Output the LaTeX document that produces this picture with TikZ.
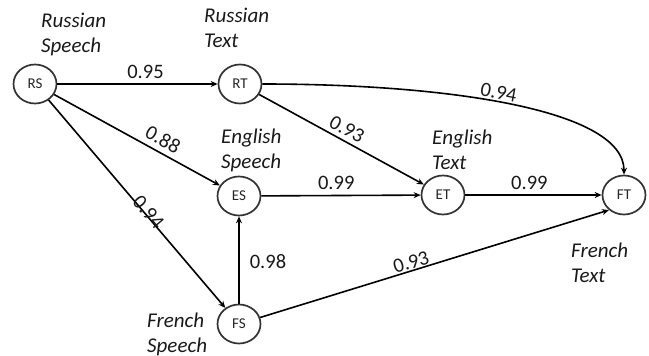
\documentclass[tikz,border=0pt]{standalone}
\usepackage{fontspec}
\setmainfont{Carlito}
\usetikzlibrary{arrows.meta,shapes.geometric}
\begin{document}
\begin{tikzpicture}[x=1pt,y=-1pt,
  state/.style={ellipse, draw=black!80, line width=1.7pt, minimum width=43pt, minimum height=39pt, inner sep=0pt, font=\fontsize{15}{18}\selectfont, text=black!85},
  lbl/.style={font=\fontsize{21}{25}\selectfont\itshape, align=left, inner sep=0pt, anchor=west, text=black!90},
  conn/.style={line width=1.6pt, -{Stealth[length=7pt,width=6pt]}},
  wt/.style={font=\fontsize{20.5}{24}\selectfont, inner sep=1pt, text=black!90}
]
\useasboundingbox (0,0) rectangle (649,356);

\node[state] (RS) at (35,84) {RS};
\node[state] (RT) at (240,84) {RT};
\node[state] (ES) at (239,196) {ES};
\node[state] (ET) at (443,195) {ET};
\node[state] (FS) at (239,324) {FS};
\node[state] (FT) at (624,195) {FT};

\node[lbl] (lRS) at (41,34.5) {Russian\\Speech};
\node[lbl] (lRT) at (204,28) {Russian\\Text};
\node[lbl] (lES) at (221,150) {English\\Speech};
\node[lbl] (lET) at (432,150) {English\\Text};
\node[lbl] (lFS) at (147,334) {French\\Speech};
\node[lbl] (lFT) at (571,263) {French\\Text};

\draw[conn] (RS) -- node[wt, above=4pt, pos=0.55] {0.95} (RT);
\draw[conn] (RS) -- node[wt, sloped, above=4pt, pos=0.62] {0.88} (ES);
\draw[conn] (RS) -- node[wt, sloped, above=-5pt, pos=0.55] {0.94} (FS);
\draw[conn] (RT) -- node[wt, sloped, above=3pt, pos=0.5] {0.93} (ET);
\draw[conn] (RT.east) .. controls (450,84) and (624,110) .. node[wt, sloped, above=1pt, pos=0.46] {0.94} (FT.north);
\draw[conn] (ES) -- node[wt, above=4pt, pos=0.47] {0.99} (ET);
\draw[conn] (ET) -- node[wt, above=4pt, pos=0.47] {0.99} (FT);
\draw[conn] (FS) -- node[wt, right=9pt, pos=0.48] {0.98} (ES);
\draw[conn] (FS) -- node[wt, sloped, above=0pt, pos=0.44] {0.93} (FT.-135);
\end{tikzpicture}
\end{document}
